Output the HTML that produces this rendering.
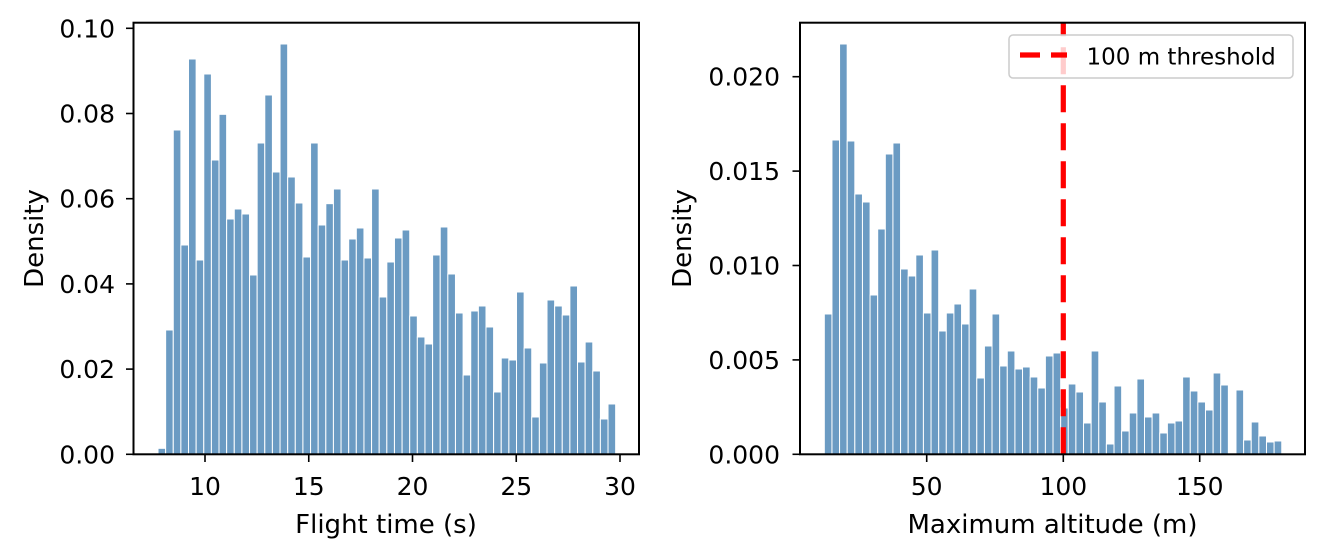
<!DOCTYPE html>
<html><head><meta charset="utf-8"><style>
html,body{margin:0;padding:0;background:#fff;}
svg{display:block;}
text{font-family:"DejaVu Sans","Liberation Sans",sans-serif;fill:#000;}
</style></head><body>
<svg width="1324" height="556" viewBox="0 0 1324 556" xmlns="http://www.w3.org/2000/svg">
<rect width="1324" height="556" fill="#fff"/>
<g transform="translate(120.17,10) scale(0.3378,0.33333)" fill="#6b9bc3" stroke="#fff" stroke-width="3">
<rect x="112.0" y="1315" width="22.58" height="18"/>
<rect x="134.6" y="960" width="22.58" height="373"/>
<rect x="157.2" y="360" width="22.58" height="973"/>
<rect x="179.7" y="705" width="22.58" height="628"/>
<rect x="202.3" y="147" width="22.58" height="1186"/>
<rect x="224.9" y="750" width="22.58" height="583"/>
<rect x="247.5" y="192" width="22.58" height="1141"/>
<rect x="270.1" y="450" width="22.58" height="883"/>
<rect x="292.6" y="313" width="22.58" height="1020"/>
<rect x="315.2" y="627" width="22.58" height="706"/>
<rect x="337.8" y="597" width="22.58" height="736"/>
<rect x="360.4" y="612" width="22.58" height="721"/>
<rect x="383.0" y="795" width="22.58" height="538"/>
<rect x="405.5" y="399" width="22.58" height="934"/>
<rect x="428.1" y="255" width="22.58" height="1078"/>
<rect x="450.7" y="486" width="22.58" height="847"/>
<rect x="473.3" y="102" width="22.58" height="1231"/>
<rect x="495.9" y="501" width="22.58" height="832"/>
<rect x="518.4" y="579" width="22.58" height="754"/>
<rect x="541.0" y="741" width="22.58" height="592"/>
<rect x="563.6" y="399" width="22.58" height="934"/>
<rect x="586.2" y="645" width="22.58" height="688"/>
<rect x="608.8" y="581" width="22.58" height="752"/>
<rect x="631.3" y="537" width="22.58" height="796"/>
<rect x="653.9" y="750" width="22.58" height="583"/>
<rect x="676.5" y="687" width="22.58" height="646"/>
<rect x="699.1" y="654" width="22.58" height="679"/>
<rect x="721.7" y="744" width="22.58" height="589"/>
<rect x="744.2" y="537" width="22.58" height="796"/>
<rect x="766.8" y="861" width="22.58" height="472"/>
<rect x="789.4" y="756" width="22.58" height="577"/>
<rect x="812.0" y="684" width="22.58" height="649"/>
<rect x="834.6" y="660" width="22.58" height="673"/>
<rect x="857.1" y="918" width="22.58" height="415"/>
<rect x="879.7" y="981" width="22.58" height="352"/>
<rect x="902.3" y="1002" width="22.58" height="331"/>
<rect x="924.9" y="735" width="22.58" height="598"/>
<rect x="947.5" y="651" width="22.58" height="682"/>
<rect x="970.0" y="792" width="22.58" height="541"/>
<rect x="992.6" y="909" width="22.58" height="424"/>
<rect x="1015.2" y="1095" width="22.58" height="238"/>
<rect x="1037.8" y="903" width="22.58" height="430"/>
<rect x="1060.4" y="888" width="22.58" height="445"/>
<rect x="1082.9" y="951" width="22.58" height="382"/>
<rect x="1105.5" y="1146" width="22.58" height="187"/>
<rect x="1128.1" y="1044" width="22.58" height="289"/>
<rect x="1150.7" y="1050" width="22.58" height="283"/>
<rect x="1173.3" y="846" width="22.58" height="487"/>
<rect x="1195.8" y="1014" width="22.58" height="319"/>
<rect x="1218.4" y="1221" width="22.58" height="112"/>
<rect x="1241.0" y="1059" width="22.58" height="274"/>
<rect x="1263.6" y="870" width="22.58" height="463"/>
<rect x="1286.2" y="888" width="22.58" height="445"/>
<rect x="1308.7" y="915" width="22.58" height="418"/>
<rect x="1331.3" y="828" width="22.58" height="505"/>
<rect x="1353.9" y="1056" width="22.58" height="277"/>
<rect x="1376.5" y="996" width="22.58" height="337"/>
<rect x="1399.1" y="1083" width="22.58" height="250"/>
<rect x="1421.6" y="1227" width="22.58" height="106"/>
<rect x="1444.2" y="1182" width="22.58" height="151"/>
</g>
<g transform="translate(790,10) scale(0.33333,0.33333)" fill="#6b9bc3" stroke="#fff" stroke-width="3">
<rect x="103.0" y="912" width="22.87" height="421"/>
<rect x="125.9" y="390" width="22.87" height="943"/>
<rect x="148.7" y="102" width="22.87" height="1231"/>
<rect x="171.6" y="393" width="22.87" height="940"/>
<rect x="194.5" y="552" width="22.87" height="781"/>
<rect x="217.4" y="576" width="22.87" height="757"/>
<rect x="240.2" y="855" width="22.87" height="478"/>
<rect x="263.1" y="657" width="22.87" height="676"/>
<rect x="286.0" y="432" width="22.87" height="901"/>
<rect x="308.8" y="399" width="22.87" height="934"/>
<rect x="331.7" y="777" width="22.87" height="556"/>
<rect x="354.6" y="798" width="22.87" height="535"/>
<rect x="377.4" y="735" width="22.87" height="598"/>
<rect x="400.3" y="909" width="22.87" height="424"/>
<rect x="423.2" y="720" width="22.87" height="613"/>
<rect x="446.1" y="963" width="22.87" height="370"/>
<rect x="468.9" y="909" width="22.87" height="424"/>
<rect x="491.8" y="882" width="22.87" height="451"/>
<rect x="514.7" y="942" width="22.87" height="391"/>
<rect x="537.5" y="837" width="22.87" height="496"/>
<rect x="560.4" y="1104" width="22.87" height="229"/>
<rect x="583.3" y="1008" width="22.87" height="325"/>
<rect x="606.1" y="912" width="22.87" height="421"/>
<rect x="629.0" y="1068" width="22.87" height="265"/>
<rect x="651.9" y="1023" width="22.87" height="310"/>
<rect x="674.8" y="1077" width="22.87" height="256"/>
<rect x="697.6" y="1071" width="22.87" height="262"/>
<rect x="720.5" y="1101" width="22.87" height="232"/>
<rect x="743.4" y="1134" width="22.87" height="199"/>
<rect x="766.2" y="1038" width="22.87" height="295"/>
<rect x="789.1" y="1029" width="22.87" height="304"/>
<rect x="812.0" y="1194" width="22.87" height="139"/>
<rect x="834.8" y="1122" width="22.87" height="211"/>
<rect x="857.7" y="1146" width="22.87" height="187"/>
<rect x="880.6" y="1239" width="22.87" height="94"/>
<rect x="903.5" y="1023" width="22.87" height="310"/>
<rect x="926.3" y="1176" width="22.87" height="157"/>
<rect x="949.2" y="1302" width="22.87" height="31"/>
<rect x="972.1" y="1128" width="22.87" height="205"/>
<rect x="994.9" y="1263" width="22.87" height="70"/>
<rect x="1017.8" y="1209" width="22.87" height="124"/>
<rect x="1040.7" y="1107" width="22.87" height="226"/>
<rect x="1063.5" y="1221" width="22.87" height="112"/>
<rect x="1086.4" y="1209" width="22.87" height="124"/>
<rect x="1109.3" y="1269" width="22.87" height="64"/>
<rect x="1132.2" y="1239" width="22.87" height="94"/>
<rect x="1155.0" y="1233" width="22.87" height="100"/>
<rect x="1177.9" y="1101" width="22.87" height="232"/>
<rect x="1200.8" y="1143" width="22.87" height="190"/>
<rect x="1223.6" y="1176" width="22.87" height="157"/>
<rect x="1246.5" y="1200" width="22.87" height="133"/>
<rect x="1269.4" y="1089" width="22.87" height="244"/>
<rect x="1292.2" y="1125" width="22.87" height="208"/>
<rect x="1338.0" y="1140" width="22.87" height="193"/>
<rect x="1360.9" y="1290" width="22.87" height="43"/>
<rect x="1383.7" y="1236" width="22.87" height="97"/>
<rect x="1406.6" y="1278" width="22.87" height="55"/>
<rect x="1429.5" y="1296" width="22.87" height="37"/>
<rect x="1452.4" y="1293" width="22.87" height="40"/>
</g>
<line x1="1063.3" y1="454.3" x2="1063.3" y2="22.7" stroke="#ff0000" stroke-width="5.2" stroke-dasharray="27 11"/>
<rect x="133.5" y="22.7" width="505.5" height="431.6" fill="none" stroke="#000" stroke-width="2"/>
<g stroke="#000" stroke-width="1.6">
<line x1="126" y1="454.3" x2="133.5" y2="454.3"/>
<line x1="126" y1="369.1" x2="133.5" y2="369.1"/>
<line x1="126" y1="283.9" x2="133.5" y2="283.9"/>
<line x1="126" y1="198.7" x2="133.5" y2="198.7"/>
<line x1="126" y1="113.5" x2="133.5" y2="113.5"/>
<line x1="126" y1="28.3" x2="133.5" y2="28.3"/>
<line x1="205" y1="454.3" x2="205" y2="462"/>
<line x1="308.75" y1="454.3" x2="308.75" y2="462"/>
<line x1="412.5" y1="454.3" x2="412.5" y2="462"/>
<line x1="516.25" y1="454.3" x2="516.25" y2="462"/>
<line x1="620" y1="454.3" x2="620" y2="462"/>
</g>
<g font-size="25" text-anchor="end">
<text x="115" y="463.3">0.00</text>
<text x="115" y="378.1">0.02</text>
<text x="115" y="292.9">0.04</text>
<text x="115" y="207.7">0.06</text>
<text x="115" y="122.5">0.08</text>
<text x="115" y="37.3">0.10</text>
</g>
<g font-size="25" text-anchor="middle">
<text x="205" y="495">10</text>
<text x="308.75" y="495">15</text>
<text x="412.5" y="495">20</text>
<text x="516.25" y="495">25</text>
<text x="620" y="495">30</text>
</g>
<g font-size="26" text-anchor="middle">
<text x="386" y="533">Flight time (s)</text>
<text transform="translate(43,238.5) rotate(-90)">Density</text>
</g>
<rect x="800" y="22.7" width="505" height="431.6" fill="none" stroke="#000" stroke-width="2"/>
<g stroke="#000" stroke-width="1.6">
<line x1="792.5" y1="454.3" x2="800" y2="454.3"/>
<line x1="792.5" y1="359.9" x2="800" y2="359.9"/>
<line x1="792.5" y1="265.5" x2="800" y2="265.5"/>
<line x1="792.5" y1="171.1" x2="800" y2="171.1"/>
<line x1="792.5" y1="76.7" x2="800" y2="76.7"/>
<line x1="926.7" y1="454.3" x2="926.7" y2="462"/>
<line x1="1063.3" y1="454.3" x2="1063.3" y2="462"/>
<line x1="1199.7" y1="454.3" x2="1199.7" y2="462"/>
</g>
<g font-size="25" text-anchor="end">
<text x="780" y="463.3">0.000</text>
<text x="780" y="368.9">0.005</text>
<text x="780" y="274.5">0.010</text>
<text x="780" y="180.1">0.015</text>
<text x="780" y="85.7">0.020</text>
</g>
<g font-size="25" text-anchor="middle">
<text x="926.7" y="495">50</text>
<text x="1063.3" y="495">100</text>
<text x="1199.7" y="495">150</text>
</g>
<g font-size="26" text-anchor="middle">
<text x="1052.5" y="533">Maximum altitude (m)</text>
<text transform="translate(691,238.5) rotate(-90)">Density</text>
</g>
<rect x="1009" y="35" width="284" height="43" rx="4" ry="4" fill="#fff" fill-opacity="0.8" stroke="#cccccc" stroke-width="1.5"/>
<line x1="1020" y1="55" x2="1067" y2="55" stroke="#ff0000" stroke-width="5.2" stroke-dasharray="20 11"/>
<text x="1086.5" y="64.5" font-size="23">100 m threshold</text>
</svg>
</body></html>
